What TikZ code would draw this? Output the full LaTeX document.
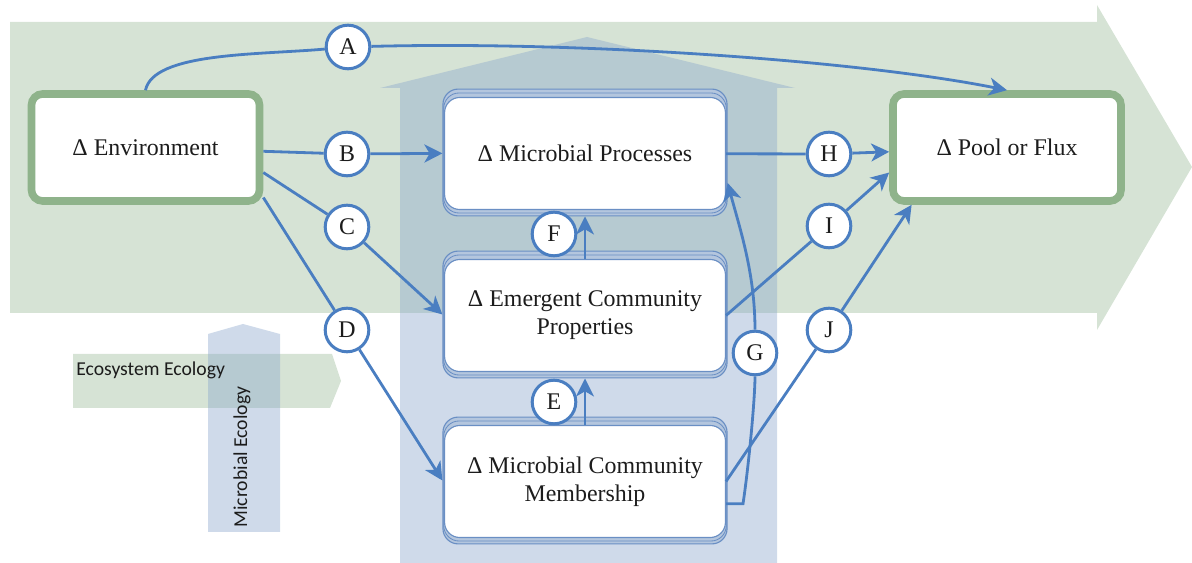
\documentclass[tikz,border=0pt]{standalone}
\usepackage{fontspec}
\setmainfont{Liberation Serif}
\newfontfamily\boxfont{Liberation Serif}
\newfontfamily\legendfont{Carlito}
\usetikzlibrary{arrows.meta}
\definecolor{ecogreen}{HTML}{D6E3D5}
\definecolor{microblue}{RGB}{140,168,205}
\definecolor{boxgreen}{HTML}{8FB38B}
\definecolor{linkblue}{RGB}{74,126,193}
\definecolor{stackfill}{HTML}{B4C6DE}
\definecolor{stackline}{HTML}{6A8FC4}
\definecolor{inktext}{HTML}{1C1C1C}

\tikzset{
  keybox/.style={draw=boxgreen, line width=0.19cm, fill=white, rounded corners=0.28cm,
    minimum width=5.7cm, minimum height=2.675cm, inner sep=0pt, text=inktext,
    font=\boxfont\fontsize{17pt}{20pt}\selectfont},
  stackback/.style={draw=stackline, line width=0.8pt, fill=stackfill, rounded corners=0.38cm,
    minimum width=7.1cm, minimum height=3.17cm, inner sep=0pt},
  stackmid/.style={draw=stackline, line width=0.6pt, rounded corners=0.38cm,
    minimum width=7.06cm, minimum height=3.0cm, inner sep=0pt},
  stackfront/.style={draw=stackline, line width=0.8pt, fill=white, rounded corners=0.38cm,
    minimum width=7.02cm, minimum height=2.8cm, inner sep=0pt, align=center, text=inktext,
    font=\boxfont\fontsize{17pt}{20pt}\selectfont},
  tag/.style={circle, draw=linkblue, line width=0.075cm, fill=white, minimum size=1.09cm,
    inner sep=0pt, text=inktext, font=\boxfont\fontsize{17pt}{20pt}\selectfont},
  legend/.style={inner sep=0pt, text=inktext, font=\legendfont\fontsize{14pt}{16pt}\selectfont},
  link/.style={draw=linkblue, line width=0.07cm},
  linkto/.style={link, -{Stealth[length=0.45cm, width=0.45cm, inset=0.13cm]}},
}

\begin{document}
\begin{tikzpicture}[x=0.025cm, y=-0.025cm]%
\useasboundingbox (0,0) rectangle (1192,563);%
% the two big background arrows
\fill[ecogreen] (10,22) -- (1097,22) -- (1097,5) -- (1192,167) -- (1097,330) -- (1097,313) -- (10,313) -- cycle;%
\fill[microblue, opacity=0.42] (400,563) -- (400,88) -- (380,88) -- (587,37) -- (795,88) -- (777,88) -- (777,563) -- cycle;%
% small key arrows
\fill[ecogreen] (73,354) -- (332,354) -- (341,381) -- (330,408) -- (73,408) -- cycle;%
\fill[microblue, opacity=0.42] (208,532) -- (208,334) -- (243,324) -- (280,334) -- (280,532) -- cycle;%
\node[legend, anchor=west] (ecolabel) at (76,370) {Ecosystem Ecology};%
\node[legend, rotate=90] (miclabel) at (242,457) {Microbial Ecology};%
% end boxes
\node[keybox] (env) at (145.5,147.5) {Δ Environment};%
\node[keybox] (pool) at (1007,147.5) {Δ Pool or Flux};%
% stacked boxes in the middle
\node[stackback] (procback) at (585,152.5) {};%
\node[stackmid] at (585,153) {};%
\node[stackfront] (proc) at (585,153.5) {Δ Microbial Processes};%
\node[stackback] (emergback) at (585,314.5) {};%
\node[stackmid] at (585,315) {};%
\node[stackfront] (emerg) at (585,315.5) {Δ Emergent Community\\Properties};%
\node[stackback] (membback) at (585,480.5) {};%
\node[stackmid] at (585,481) {};%
\node[stackfront] (memb) at (585,481.5) {Δ Microbial Community\\Membership};%
% lettered pathways
\node[tag] (A) at (348,47) {A};%
\node[tag] (B) at (347,154) {B};%
\node[tag] (C) at (347,227) {C};%
\node[tag] (D) at (347,330) {D};%
\node[tag] (E) at (554,402) {E};%
\node[tag] (F) at (554,234) {F};%
\node[tag] (G) at (755,353) {G};%
\node[tag] (H) at (829,154) {H};%
\node[tag] (I) at (829,226) {I};%
\node[tag] (J) at (829,330) {J};%
% connectors
\draw[link] (env.north) .. controls +(8,-38) and +(-90,8) .. (A);%
\draw[linkto] (A) .. controls +(230,-6) and +(-150,-30) .. (pool.north);%
\draw[link] (env) -- (B);%
\draw[linkto] (B) -- (procback);%
\draw[link] (env.-12) -- (C);%
\draw[linkto] (C) -- (emergback.west);%
\draw[link] (env.-23) -- (D);%
\draw[linkto] (D) -- (membback.west);%
\draw[linkto] (memb.north) -- (emergback.south);%
\draw[linkto] (emerg.north) -- (procback.south);%
\draw[link] (memb.-9.5) -- ++(17,0) .. controls +(6,-40) and +(0,45) .. (G);%
\draw[linkto] (G) .. controls +(0,-80) and +(12,45) .. (procback.-12);%
\draw[link] (proc) -- (H);%
\draw[linkto] (H) -- (pool);%
\draw[link] (emerg.east) -- (I);%
\draw[linkto] (I) -- (pool.192);%
\draw[link] (memb.east) -- (J);%
\draw[linkto] (J) -- (pool.211);%
\end{tikzpicture}
\end{document}
